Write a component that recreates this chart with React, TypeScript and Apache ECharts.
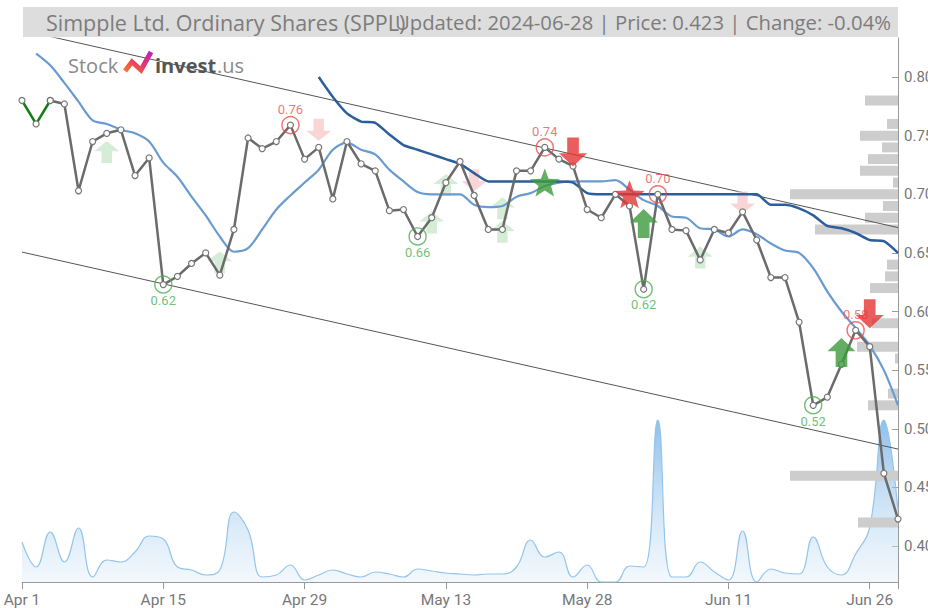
import React, { useEffect, useRef } from "react";
import * as echarts from "echarts";

const dates = [
  "Apr 1", "Apr 2", "Apr 3", "Apr 4", "Apr 5", "Apr 8", "Apr 9", "Apr 10", "Apr 11", "Apr 12",
  "Apr 15", "Apr 16", "Apr 17", "Apr 18", "Apr 19", "Apr 22", "Apr 23", "Apr 24", "Apr 25", "Apr 26",
  "Apr 29", "Apr 30", "May 1", "May 2", "May 3", "May 6", "May 7", "May 8", "May 9", "May 10",
  "May 13", "May 14", "May 15", "May 16", "May 17", "May 20", "May 21", "May 22", "May 23", "May 24",
  "May 28", "May 29", "May 30", "May 31", "Jun 3", "Jun 4", "Jun 5", "Jun 6", "Jun 7", "Jun 10",
  "Jun 11", "Jun 12", "Jun 13", "Jun 14", "Jun 17", "Jun 18", "Jun 20", "Jun 21", "Jun 24", "Jun 25",
  "Jun 26", "Jun 27", "Jun 28",
];

const price = [
  0.780, 0.760, 0.780, 0.777, 0.703, 0.745, 0.752, 0.755, 0.716, 0.731,
  0.623, 0.630, 0.641, 0.650, 0.631, 0.670, 0.748, 0.739, 0.745, 0.759,
  0.730, 0.740, 0.696, 0.745, 0.726, 0.720, 0.686, 0.687, 0.664, 0.680,
  0.710, 0.728, 0.699, 0.670, 0.670, 0.720, 0.720, 0.740, 0.730, 0.724,
  0.687, 0.680, 0.700, 0.690, 0.619, 0.700, 0.670, 0.669, 0.644, 0.670,
  0.667, 0.685, 0.661, 0.629, 0.629, 0.591, 0.520, 0.527, 0.555, 0.584,
  0.570, 0.462, 0.423,
];

const maShort = [
  null, 0.820, 0.810, 0.795, 0.779, 0.763, 0.760, 0.755, 0.752, 0.745,
  0.727, 0.715, 0.698, 0.682, 0.664, 0.651, 0.654, 0.670, 0.687, 0.699,
  0.710, 0.721, 0.738, 0.744, 0.738, 0.734, 0.721, 0.711, 0.702, 0.700,
  0.700, 0.700, 0.691, 0.689, 0.690, 0.698, 0.701, 0.707, 0.710, 0.711,
  0.711, 0.711, 0.712, 0.704, 0.695, 0.690, 0.681, 0.680, 0.671, 0.670,
  0.664, 0.670, 0.666, 0.658, 0.652, 0.650, 0.637, 0.617, 0.600, 0.586,
  0.571, 0.550, 0.520,
];

const maLong = [
  null, null, null, null, null, null, null, null, null, null,
  null, null, null, null, null, null, null, null, null, null,
  null, 0.800, 0.783, 0.769, 0.762, 0.761, 0.751, 0.742, 0.738, 0.734,
  0.730, 0.726, 0.718, 0.711, 0.711, 0.711, 0.711, 0.711, 0.711, 0.710,
  0.701, 0.700, 0.700, 0.700, 0.700, 0.700, 0.700, 0.700, 0.700, 0.700,
  0.700, 0.700, 0.700, 0.691, 0.691, 0.688, 0.682, 0.673, 0.671, 0.667,
  0.661, 0.660, 0.650,
];

const volume = [
  40, 15, 50, 20, 54, 5, 22, 20, 30, 46,
  43, 15, 12, 7, 12, 70, 52, 5, 7, 17,
  2, 7, 12, 8, 5, 10, 8, 5, 13, 11,
  9, 8, 7, 8, 8, 15, 42, 25, 30, 5,
  17, 0, 0, 16, 15, 162, 5, 5, 20, 10,
  2, 51, 0, 13, 9, 8, 45, 15, 7, 28,
  55, 162, 72,
];

const profilePrice = [0.78, 0.76, 0.75, 0.74, 0.73, 0.72, 0.71, 0.70, 0.69, 0.68, 0.67, 0.64, 0.63, 0.62, 0.59, 0.57, 0.56, 0.53, 0.52, 0.46, 0.42];
const profileVolume = [33, 11, 38, 16, 30, 38, 5, 108, 15, 33, 83, 11, 13, 28, 26, 41, 3, 10, 30, 108, 40];

const highs = [[19, 0.759], [37, 0.740], [45, 0.700], [59, 0.584]];
const lows = [[10, 0.623], [28, 0.664], [44, 0.619], [56, 0.520]];

const weakBuy = [[6, 0.736], [14, 0.642], [29, 0.676], [30, 0.708], [34, 0.688], [34, 0.668], [48, 0.646]];
const weakSell = [[21, 0.755], [32, 0.712], [51, 0.693]];
const strongBuy = [[44, 0.675], [58, 0.565]];
const strongSell = [[39, 0.736], [60, 0.598]];
const buyStars = [[37, 0.710]];
const sellStars = [[43, 0.700]];

const channelUpper = [[0, 0.840], [62, 0.6716]];
const channelLower = [[0, 0.6507], [62, 0.4827]];

const yTicks = [0.40, 0.45, 0.50, 0.55, 0.60, 0.65, 0.70, 0.75, 0.80];

const titleLeft = "Simpple Ltd. Ordinary Shares (SPPL)";
const titleRight = "Updated: 2024-06-28 | Price: 0.423 | Change: -0.04%";

const UP = "path://M12,0 L24,11 L17,11 L17,24 L7,24 L7,11 L0,11 Z";
const DOWN = "path://M7,0 L17,0 L17,13 L24,13 L12,24 L0,13 L7,13 Z";
const STAR = "path://M12,0.5 L14.94,8.45 L23.41,8.79 L16.76,14.05 L19.05,22.21 L12,17.5 L4.95,22.21 L7.24,14.05 L0.59,8.79 L9.06,8.45 Z";

export default function App() {
  const ref = useRef<HTMLDivElement>(null);
  useEffect(() => {
    if (!ref.current) return;
    const chart = echarts.init(ref.current, null, { renderer: "svg" });
    const greenV = price.map((v, i) => (i <= 2 ? v : null));
    const grayLine = price.map((v, i) => (i >= 2 ? v : null));
    const markerBase = { type: "scatter", xAxisIndex: 0, yAxisIndex: 0, silent: true };
    const option: any = {
      animation: false,
      backgroundColor: "#ffffff",
      grid: { left: 22, right: 30, top: 38, bottom: 26, containLabel: false, outerBoundsMode: "none" },
      xAxis: [
        {
          type: "category",
          data: dates,
          boundaryGap: false,
          axisLine: { lineStyle: { color: "#999", width: 1 } },
          axisTick: {
            show: true,
            length: 7,
            lineStyle: { color: "#999" },
            interval: (i: number) => i % 10 === 0 || i === dates.length - 1,
          },
          axisLabel: {
            interval: (i: number) => i % 10 === 0,
            color: "#777",
            fontSize: 15.5,
            fontFamily: "Roboto",
            margin: 10,
          },
          splitLine: { show: false },
        },
        { type: "value", inverse: true, min: 0, max: 876, show: false, gridIndex: 0 },
      ],
      yAxis: [
        {
          type: "value",
          position: "right",
          min: 0.3693,
          max: 0.8333,
          scale: true,
          splitLine: { show: false },
          axisLine: { show: true, lineStyle: { color: "#999" } },
          axisTick: { show: true, inside: true, length: 6, lineStyle: { color: "#999" }, customValues: yTicks },
          axisLabel: {
            customValues: yTicks,
            formatter: (v: number) => v.toFixed(2),
            color: "#777",
            fontSize: 15,
            fontFamily: "Roboto",
            margin: 6,
          },
        },
        { type: "value", min: 0, max: 544, show: false, gridIndex: 0 },
      ],
      series: [
        {
          type: "line",
          name: "Volume",
          xAxisIndex: 0,
          yAxisIndex: 1,
          data: volume,
          smooth: 0.45,
          symbol: "none",
          z: 1,
          lineStyle: { color: "#93c4ec", width: 1.2 },
          areaStyle: {
            color: new echarts.graphic.LinearGradient(0, 0, 0, 1, [
              { offset: 0, color: "rgba(88,160,222,0.95)" },
              { offset: 0.6, color: "rgba(170,208,240,0.7)" },
              { offset: 1, color: "rgba(225,238,250,0.6)" },
            ]),
          },
        },
        {
          type: "custom",
          name: "Profile",
          xAxisIndex: 1,
          yAxisIndex: 0,
          z: 2,
          data: profilePrice.map((p, i) => [profileVolume[i], p]),
          encode: { x: 0, y: 1 },
          renderItem: (params: any, api: any) => {
            const w = api.value(0);
            const p = api.value(1);
            const left = api.coord([w, p]);
            const right = api.coord([0, p]);
            const h = api.size([0, 0.0085])[1];
            return {
              type: "rect",
              shape: { x: left[0], y: left[1] - h / 2, width: right[0] - left[0], height: h },
              style: { fill: "#cdcdcd" },
            };
          },
        },
        {
          type: "line",
          data: channelUpper,
          symbol: "none",
          z: 3,
          lineStyle: { color: "#555", width: 1 },
        },
        {
          type: "line",
          data: channelLower,
          symbol: "none",
          z: 3,
          lineStyle: { color: "#555", width: 1 },
        },
        { ...markerBase, data: weakBuy, symbol: UP, symbolSize: [25, 22], z: 4, itemStyle: { color: "#cbe7cc" } },
        { ...markerBase, data: weakSell, symbol: DOWN, symbolSize: [25, 22], z: 4, itemStyle: { color: "#f7caca" } },
        {
          type: "line",
          data: maShort,
          symbol: "none",
          smooth: 0.3,
          z: 5,
          lineStyle: { color: "#6a9bd0", width: 2.2 },
        },
        {
          type: "line",
          data: maLong,
          symbol: "none",
          smooth: 0.2,
          z: 5,
          lineStyle: { color: "#2d5e9c", width: 2.5 },
        },
        {
          type: "line",
          data: grayLine,
          symbol: "circle",
          symbolSize: 6,
          z: 6,
          lineStyle: { color: "#6b6b6b", width: 2.5 },
          itemStyle: { color: "#ffffff", borderColor: "#777", borderWidth: 1.2 },
        },
        {
          type: "line",
          data: greenV,
          symbol: "circle",
          symbolSize: 6,
          z: 6,
          lineStyle: { color: "#137d13", width: 2.5 },
          itemStyle: { color: "#ffffff", borderColor: "#777", borderWidth: 1.2 },
        },
        {
          ...markerBase,
          data: highs,
          symbol: "circle",
          symbolSize: 17,
          z: 7,
          itemStyle: { color: "rgba(0,0,0,0)", borderColor: "#ee4b4b", borderWidth: 1.4 },
          label: {
            show: true,
            position: "top",
            distance: 0,
            color: "#e85555",
            fontSize: 13,
            fontFamily: "Roboto",
            formatter: (p: any) => p.value[1].toFixed(2),
          },
        },
        {
          ...markerBase,
          data: lows,
          symbol: "circle",
          symbolSize: 17,
          z: 7,
          itemStyle: { color: "rgba(0,0,0,0)", borderColor: "#4caf50", borderWidth: 1.4 },
          label: {
            show: true,
            position: "bottom",
            distance: 0,
            color: "#4caf50",
            fontSize: 13,
            fontFamily: "Roboto",
            formatter: (p: any) => p.value[1].toFixed(2),
          },
        },
        { ...markerBase, data: strongBuy, symbol: UP, symbolSize: [28, 29], z: 8, itemStyle: { color: "#3c9a3c" } },
        { ...markerBase, data: strongSell, symbol: DOWN, symbolSize: [28, 29], z: 8, itemStyle: { color: "#e33535" } },
        { ...markerBase, data: buyStars, symbol: STAR, symbolSize: [30, 28], z: 8, itemStyle: { color: "#3c9a3c" } },
        { ...markerBase, data: sellStars, symbol: STAR, symbolSize: [30, 28], z: 8, itemStyle: { color: "#e33535" } },
      ],
      graphic: [
        {
          type: "rect",
          z: 100,
          shape: { x: 23, y: 7, width: 875, height: 30 },
          style: { fill: "#dddddd" },
        },
        {
          type: "text",
          z: 101,
          x: 46,
          y: 22,
          style: {
            text: titleLeft,
            fontSize: 21.5,
            fontFamily: "Open Sans",
            fill: "#7c7c7c",
            textVerticalAlign: "middle",
          },
        },
        {
          type: "text",
          z: 101,
          x: 891,
          y: 22,
          style: {
            text: titleRight,
            fontSize: 20.3,
            fontFamily: "Open Sans",
            fill: "#7c7c7c",
            textAlign: "right",
            textVerticalAlign: "middle",
          },
        },
        {
          type: "text",
          z: 101,
          x: 68,
          y: 65,
          style: { text: "Stock", fontSize: 20, fontFamily: "Open Sans", fill: "#8a8a8a", textVerticalAlign: "middle" },
        },
        {
          type: "polyline",
          z: 101,
          shape: { points: [[125, 71], [132, 62], [141, 70], [151, 52]] },
          style: {
            fill: null,
            lineWidth: 5,
            lineJoin: "miter",
            stroke: new echarts.graphic.LinearGradient(0, 1, 1, 0, [
              { offset: 0, color: "#f4792b" },
              { offset: 0.5, color: "#e8356a" },
              { offset: 1, color: "#b52ab0" },
            ]),
          },
        },
        {
          type: "text",
          z: 101,
          x: 155,
          y: 65,
          style: { text: "invest", fontSize: 20, fontWeight: "bold", fontFamily: "Open Sans", fill: "#555", textVerticalAlign: "middle" },
        },
        {
          type: "text",
          z: 101,
          x: 217,
          y: 65,
          style: { text: ".us", fontSize: 20, fontFamily: "Open Sans", fill: "#8a8a8a", textVerticalAlign: "middle" },
        },
      ],
    };
    chart.setOption(option);
    return () => chart.dispose();
  }, []);
  return <div ref={ref} style={{ position: "fixed", left: 0, top: 0, width: 928, height: 608 }} />;
}
